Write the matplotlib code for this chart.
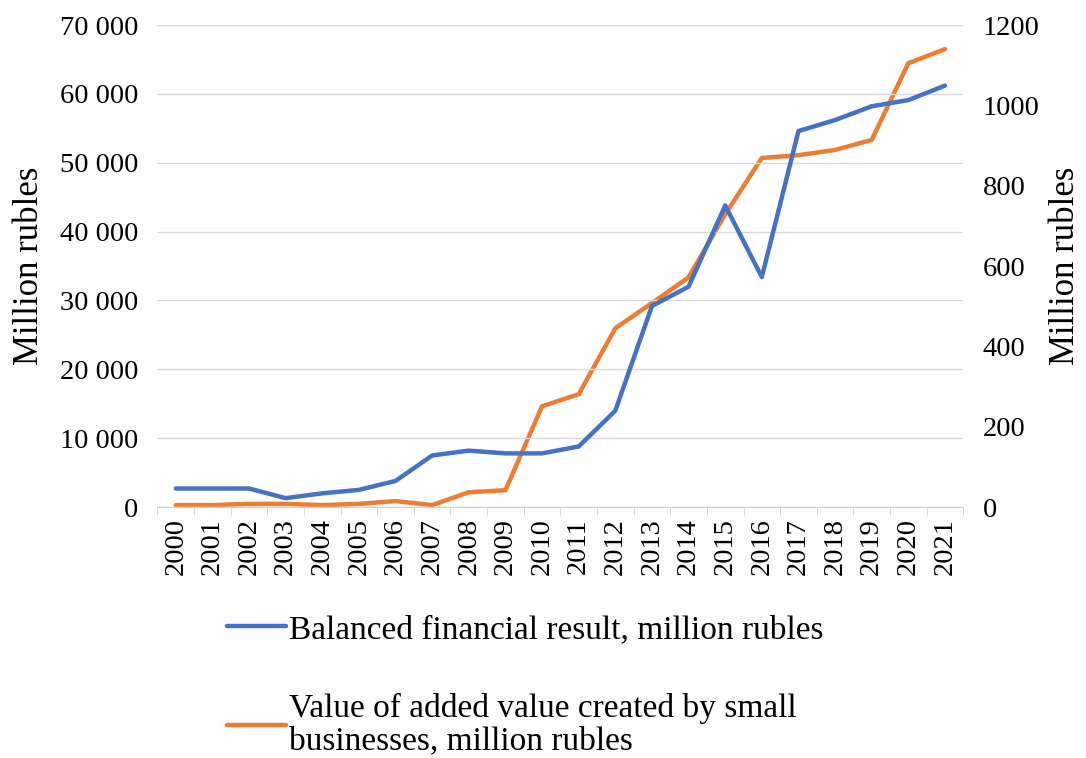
import matplotlib.pyplot as plt
from matplotlib.ticker import FuncFormatter, FixedLocator

years = [str(y) for y in range(2000, 2022)]
financial_result = [2700, 2700, 2700, 1300, 2000, 2500, 3800, 7500, 8200, 7800, 7800,
                    8800, 14000, 29200, 32000, 43800, 33400, 54600, 56200, 58200, 59100, 61200]
added_value = [5, 5, 8, 8, 5, 8, 15, 5, 37, 42, 251,
               281, 445, 508, 572, 729, 869, 876, 889, 914, 1105, 1140]

plt.rcParams['font.family'] = ['Liberation Serif', 'DejaVu Serif']

fig = plt.figure(figsize=(10.86, 7.58), dpi=100)
ax = fig.add_axes([0.145, 0.331, 0.742, 0.636])
ax2 = ax.twinx()

x = list(range(len(years)))
l1, = ax.plot(x, financial_result, color='#4472C4', linewidth=3.2, solid_capstyle='round',
              label='Balanced financial result, million rubles')
l2, = ax2.plot(x, added_value, color='#ED7D31', linewidth=3.2, solid_capstyle='round',
               label='Value of added value created by small\nbusinesses, million rubles')
ax.set_zorder(ax2.get_zorder() + 1)
ax.patch.set_visible(False)

ax.set_xlim(-0.5, len(years) - 0.5)
ax.set_ylim(0, 70000)
ax2.set_ylim(0, 1200)
ax.set_yticks(range(0, 70001, 10000))
ax2.set_yticks(range(0, 1201, 200))
ax.yaxis.set_major_formatter(FuncFormatter(lambda v, p: f"{int(v):,}".replace(',', ' ')))

ax.set_xticks(x)
ax.set_xticklabels(years, rotation=90, fontsize=20.5)
ax.xaxis.set_minor_locator(FixedLocator([i - 0.5 for i in range(len(years) + 1)]))
ax.tick_params(axis='x', which='major', length=0, pad=8)
ax.tick_params(axis='x', which='minor', length=6, direction='out', color='#d0d0d0')
ax.tick_params(axis='y', length=0, labelsize=20.5, pad=14)
ax2.tick_params(axis='y', length=0, labelsize=20.5, pad=14)

ax.grid(axis='y', color='#d9d9d9', linewidth=1)
for a in (ax, ax2):
    for s in ('top', 'left', 'right', 'bottom'):
        a.spines[s].set_visible(False)
ax.spines['bottom'].set_visible(True)
ax.spines['bottom'].set_color('#d0d0d0')

ax.set_ylabel('Million rubles', fontsize=25, labelpad=10)
ax2.set_ylabel('Million rubles', fontsize=25, labelpad=7)

leg = fig.legend(handles=[l1, l2], loc='upper left', bbox_to_anchor=(0.197, 0.207),
                 frameon=False, fontsize=24, handlelength=1.75, handletextpad=0.1,
                 labelspacing=1.45, borderaxespad=0)
for t in leg.get_texts():
    t.set_linespacing(1.05)

fig.savefig('out.png', dpi=100)
